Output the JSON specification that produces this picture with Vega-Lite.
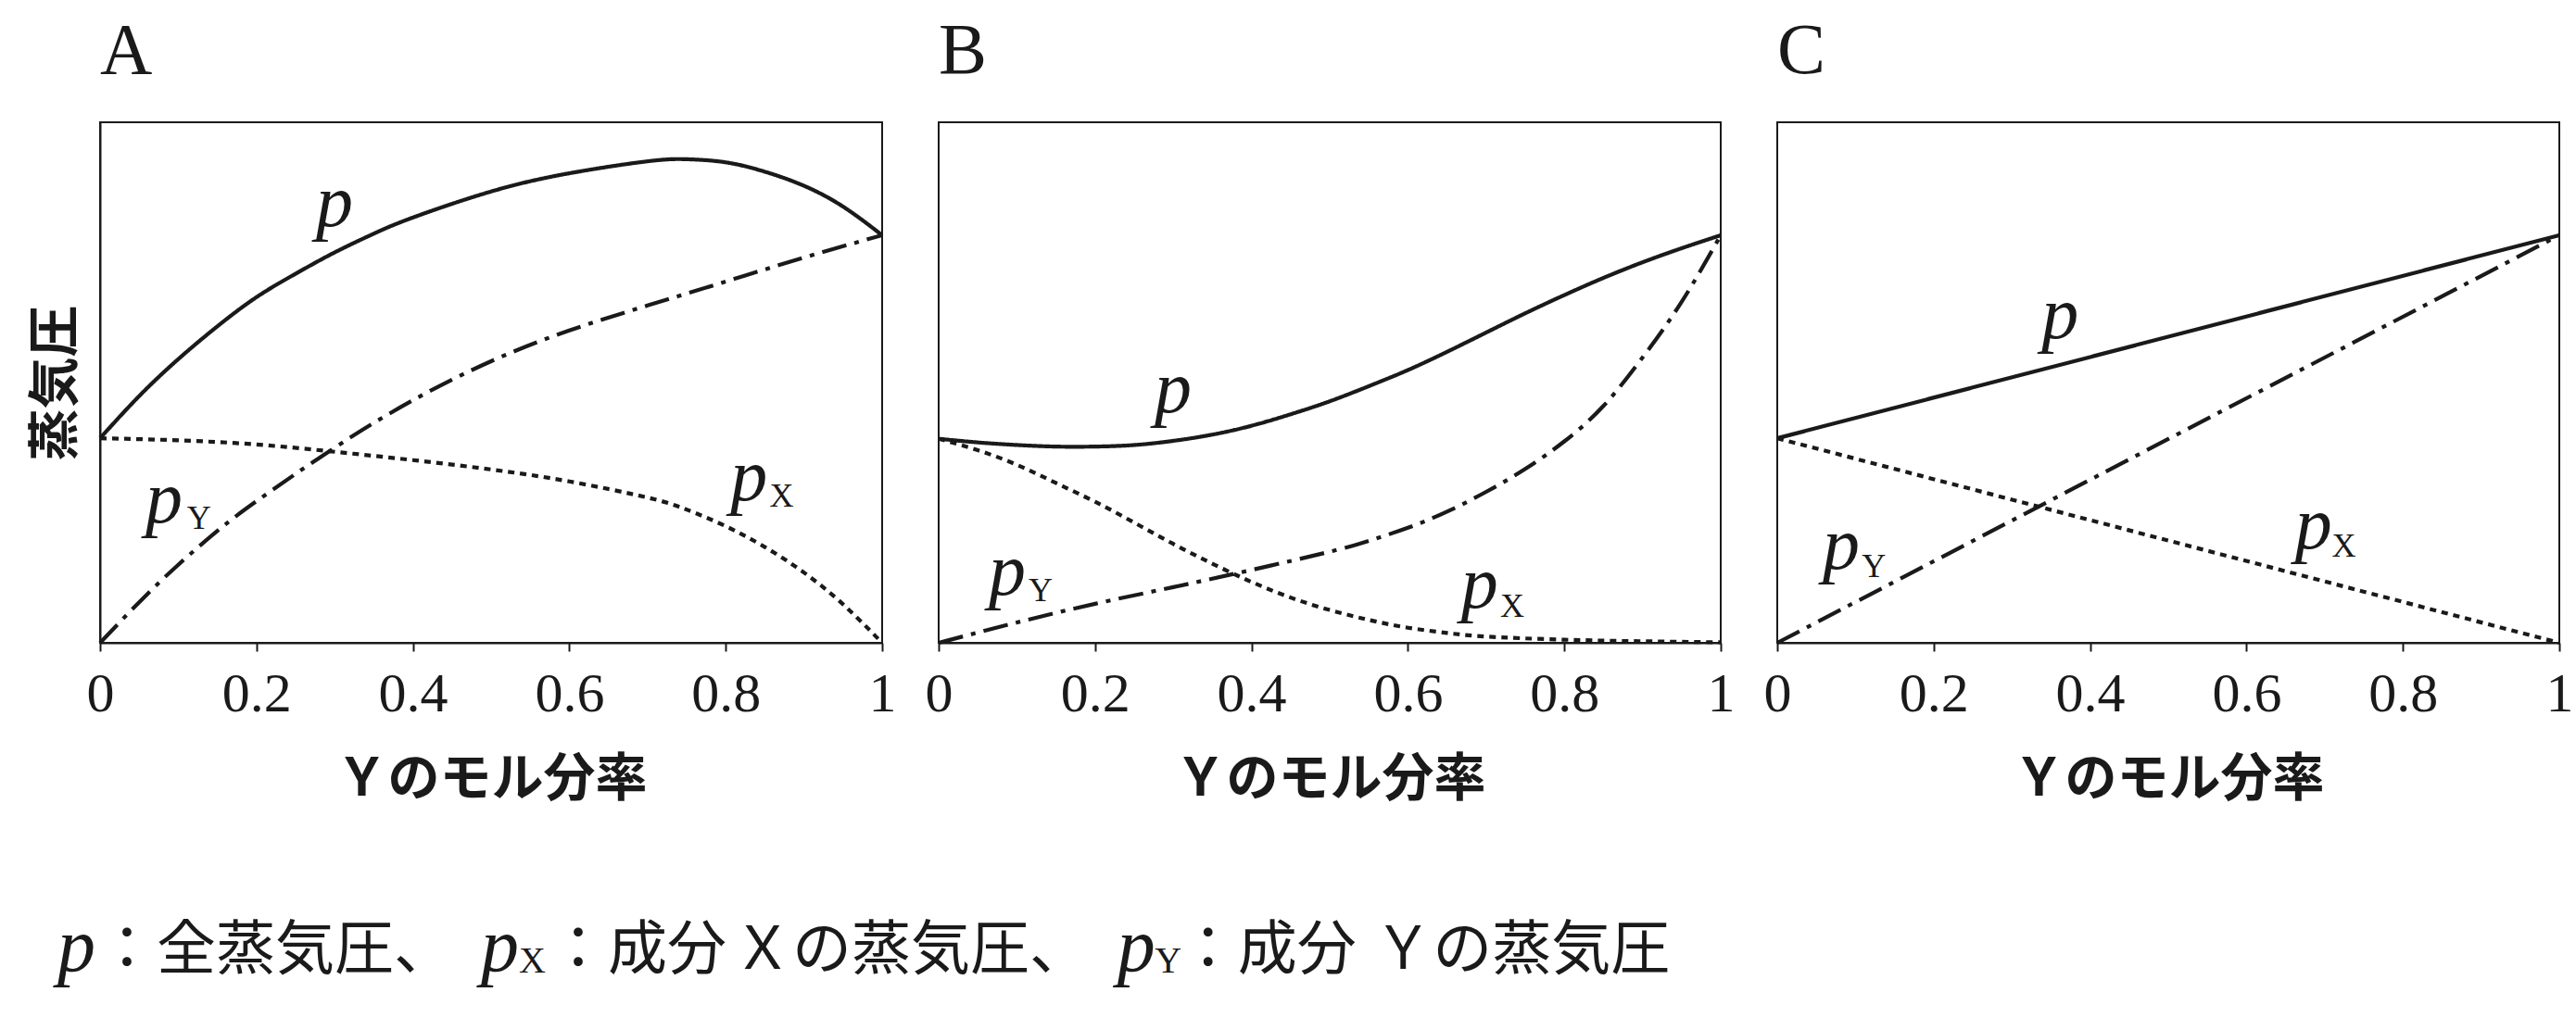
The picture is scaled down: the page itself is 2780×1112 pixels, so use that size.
{
  "$schema": "https://vega.github.io/schema/vega-lite/v6.json",
  "background": "white",
  "padding": {"left": 31, "top": 16, "right": 10, "bottom": 10},
  "datasets": {
    "curves": [
      {"panel":"A","series":"p","x":0,"y":0.393},{"panel":"A","series":"p","x":0.05,"y":0.474},{"panel":"A","series":"p","x":0.1,"y":0.545},{"panel":"A","series":"p","x":0.15,"y":0.608},{"panel":"A","series":"p","x":0.2,"y":0.664},{"panel":"A","series":"p","x":0.25,"y":0.709},{"panel":"A","series":"p","x":0.3,"y":0.75},{"panel":"A","series":"p","x":0.35,"y":0.786},{"panel":"A","series":"p","x":0.4,"y":0.817},{"panel":"A","series":"p","x":0.5,"y":0.867},{"panel":"A","series":"p","x":0.6,"y":0.902},{"panel":"A","series":"p","x":0.7,"y":0.925},{"panel":"A","series":"p","x":0.75,"y":0.929},{"panel":"A","series":"p","x":0.8,"y":0.923},{"panel":"A","series":"p","x":0.85,"y":0.905},{"panel":"A","series":"p","x":0.9,"y":0.878},{"panel":"A","series":"p","x":0.95,"y":0.838},{"panel":"A","series":"p","x":1,"y":0.783},
      {"panel":"A","series":"pX","x":0,"y":0.393},{"panel":"A","series":"pX","x":0.1,"y":0.389},{"panel":"A","series":"pX","x":0.2,"y":0.381},{"panel":"A","series":"pX","x":0.3,"y":0.367},{"panel":"A","series":"pX","x":0.4,"y":0.351},{"panel":"A","series":"pX","x":0.5,"y":0.333},{"panel":"A","series":"pX","x":0.6,"y":0.31},{"panel":"A","series":"pX","x":0.7,"y":0.279},{"panel":"A","series":"pX","x":0.75,"y":0.256},{"panel":"A","series":"pX","x":0.8,"y":0.224},{"panel":"A","series":"pX","x":0.85,"y":0.184},{"panel":"A","series":"pX","x":0.9,"y":0.135},{"panel":"A","series":"pX","x":0.95,"y":0.074},{"panel":"A","series":"pX","x":1,"y":0},
      {"panel":"A","series":"pY","x":0,"y":0},{"panel":"A","series":"pY","x":0.05,"y":0.078},{"panel":"A","series":"pY","x":0.1,"y":0.15},{"panel":"A","series":"pY","x":0.15,"y":0.215},{"panel":"A","series":"pY","x":0.2,"y":0.272},{"panel":"A","series":"pY","x":0.3,"y":0.375},{"panel":"A","series":"pY","x":0.4,"y":0.466},{"panel":"A","series":"pY","x":0.5,"y":0.541},{"panel":"A","series":"pY","x":0.6,"y":0.6},{"panel":"A","series":"pY","x":0.7,"y":0.648},{"panel":"A","series":"pY","x":0.8,"y":0.694},{"panel":"A","series":"pY","x":0.9,"y":0.74},{"panel":"A","series":"pY","x":1,"y":0.783},
      {"panel":"B","series":"p","x":0,"y":0.392},{"panel":"B","series":"p","x":0.05,"y":0.385},{"panel":"B","series":"p","x":0.1,"y":0.38},{"panel":"B","series":"p","x":0.15,"y":0.377},{"panel":"B","series":"p","x":0.2,"y":0.377},{"panel":"B","series":"p","x":0.25,"y":0.38},{"panel":"B","series":"p","x":0.3,"y":0.388},{"panel":"B","series":"p","x":0.35,"y":0.4},{"panel":"B","series":"p","x":0.4,"y":0.417},{"panel":"B","series":"p","x":0.45,"y":0.439},{"panel":"B","series":"p","x":0.5,"y":0.464},{"panel":"B","series":"p","x":0.55,"y":0.493},{"panel":"B","series":"p","x":0.6,"y":0.524},{"panel":"B","series":"p","x":0.65,"y":0.559},{"panel":"B","series":"p","x":0.7,"y":0.596},{"panel":"B","series":"p","x":0.75,"y":0.633},{"panel":"B","series":"p","x":0.8,"y":0.668},{"panel":"B","series":"p","x":0.85,"y":0.701},{"panel":"B","series":"p","x":0.9,"y":0.731},{"panel":"B","series":"p","x":0.95,"y":0.758},{"panel":"B","series":"p","x":1,"y":0.783},
      {"panel":"B","series":"pX","x":0,"y":0.392},{"panel":"B","series":"pX","x":0.05,"y":0.37},{"panel":"B","series":"pX","x":0.1,"y":0.342},{"panel":"B","series":"pX","x":0.15,"y":0.307},{"panel":"B","series":"pX","x":0.2,"y":0.271},{"panel":"B","series":"pX","x":0.25,"y":0.231},{"panel":"B","series":"pX","x":0.3,"y":0.19},{"panel":"B","series":"pX","x":0.35,"y":0.152},{"panel":"B","series":"pX","x":0.4,"y":0.117},{"panel":"B","series":"pX","x":0.45,"y":0.087},{"panel":"B","series":"pX","x":0.5,"y":0.063},{"panel":"B","series":"pX","x":0.55,"y":0.044},{"panel":"B","series":"pX","x":0.6,"y":0.029},{"panel":"B","series":"pX","x":0.65,"y":0.019},{"panel":"B","series":"pX","x":0.7,"y":0.012},{"panel":"B","series":"pX","x":0.8,"y":0.006},{"panel":"B","series":"pX","x":0.9,"y":0.003},{"panel":"B","series":"pX","x":1,"y":0.001},
      {"panel":"B","series":"pY","x":0,"y":0},{"panel":"B","series":"pY","x":0.1,"y":0.039},{"panel":"B","series":"pY","x":0.2,"y":0.075},{"panel":"B","series":"pY","x":0.3,"y":0.107},{"panel":"B","series":"pY","x":0.4,"y":0.14},{"panel":"B","series":"pY","x":0.5,"y":0.175},{"panel":"B","series":"pY","x":0.55,"y":0.196},{"panel":"B","series":"pY","x":0.6,"y":0.221},{"panel":"B","series":"pY","x":0.65,"y":0.252},{"panel":"B","series":"pY","x":0.7,"y":0.29},{"panel":"B","series":"pY","x":0.75,"y":0.334},{"panel":"B","series":"pY","x":0.8,"y":0.387},{"panel":"B","series":"pY","x":0.85,"y":0.455},{"panel":"B","series":"pY","x":0.9,"y":0.548},{"panel":"B","series":"pY","x":0.95,"y":0.655},{"panel":"B","series":"pY","x":1,"y":0.783},
      {"panel":"C","series":"p","x":0,"y":0.393},{"panel":"C","series":"p","x":1,"y":0.783},
      {"panel":"C","series":"pX","x":0,"y":0.393},{"panel":"C","series":"pX","x":1,"y":0},
      {"panel":"C","series":"pY","x":0,"y":0},{"panel":"C","series":"pY","x":1,"y":0.783}
    ],
    "labels": [
      {"panel":"A","kind":"main","t":"p","x":0.276,"y":0.8},
      {"panel":"A","kind":"main","t":"p","x":0.058,"y":0.231},
      {"panel":"A","kind":"sub","t":"Y","x":0.111,"y":0.219},
      {"panel":"A","kind":"main","t":"p","x":0.806,"y":0.274},
      {"panel":"A","kind":"sub","t":"X","x":0.856,"y":0.262},
      {"panel":"B","kind":"main","t":"p","x":0.276,"y":0.443},
      {"panel":"B","kind":"main","t":"p","x":0.064,"y":0.0925},
      {"panel":"B","kind":"sub","t":"Y","x":0.115,"y":0.08},
      {"panel":"B","kind":"main","t":"p","x":0.668,"y":0.067},
      {"panel":"B","kind":"sub","t":"X","x":0.718,"y":0.05},
      {"panel":"C","kind":"main","t":"p","x":0.338,"y":0.585},
      {"panel":"C","kind":"main","t":"p","x":0.058,"y":0.142},
      {"panel":"C","kind":"sub","t":"Y","x":0.108,"y":0.126},
      {"panel":"C","kind":"main","t":"p","x":0.662,"y":0.181},
      {"panel":"C","kind":"sub","t":"X","x":0.709,"y":0.165}
    ],
    "footer": [
      {"t":"p","style":"italic","u":0.08},
      {"t":"：全蒸気圧、","style":"text","u":0.75},
      {"t":"p","style":"italic","u":7.22},
      {"t":"X","style":"sub","u":7.86},
      {"t":"：成分","style":"text","u":8.36},
      {"t":"Ｘの蒸気圧、","style":"text","u":11.47},
      {"t":"p","style":"italic","u":17.95},
      {"t":"Y","style":"sub","u":18.58},
      {"t":"：成分","style":"text","u":18.98},
      {"t":"Ｙの蒸気圧","style":"text","u":22.27}
    ]
  },
  "columns": 3,
  "bounds": "flush",
  "spacing": {"row": 322, "column": 61},
  "concat": [
    {
      "width": 844, "height": 562,
      "title": {"text": "A"},
      "encoding": {
        "x": {"field": "x", "type": "quantitative", "scale": {"domain": [0, 1], "nice": false, "zero": false},
              "axis": {"title": "Ｙのモル分率", "values": [0, 0.2, 0.4, 0.6, 0.8, 1], "format": "~g", "labelFlush": false, "labelOverlap": false, "titleBaseline": "alphabetic", "titleY": 164}},
        "y": {"field": "y", "type": "quantitative", "scale": {"domain": [0, 1], "nice": false, "zero": false},
              "axis": {"title": "蒸気圧", "ticks": false, "labels": false, "titleAngle": -90, "titleBaseline": "alphabetic", "titleAlign": "center", "titleX": -31, "titleY": 281}}
      },
      "layer": [
        {"data": {"name": "curves"}, "transform": [{"filter": "datum.panel === 'A'"}],
         "mark": {"type": "line", "interpolate": "natural", "strokeWidth": 4.2, "color": "#1a1a1a"},
         "encoding": {"strokeDash": {"field": "series", "type": "nominal", "scale": {"domain": ["p", "pX", "pY"], "range": [[1, 0], [7, 6], [27, 9, 5, 9]]}, "legend": null}}},
        {"data": {"name": "labels"}, "transform": [{"filter": "datum.panel === 'A' && datum.kind === 'main'"}],
         "mark": {"type": "text", "font": "Liberation Serif", "fontStyle": "italic", "fontSize": 80, "align": "left", "baseline": "alphabetic", "color": "#1a1a1a"},
         "encoding": {"text": {"field": "t"}}},
        {"data": {"name": "labels"}, "transform": [{"filter": "datum.panel === 'A' && datum.kind === 'sub'"}],
         "mark": {"type": "text", "font": "Liberation Serif", "fontSize": 36, "align": "left", "baseline": "alphabetic", "color": "#1a1a1a"},
         "encoding": {"text": {"field": "t"}}}
      ]
    },
    {
      "width": 844, "height": 562,
      "title": {"text": "B"},
      "encoding": {
        "x": {"field": "x", "type": "quantitative", "scale": {"domain": [0, 1], "nice": false, "zero": false},
              "axis": {"title": "Ｙのモル分率", "values": [0, 0.2, 0.4, 0.6, 0.8, 1], "format": "~g", "labelFlush": false, "labelOverlap": false, "titleBaseline": "alphabetic", "titleY": 164}},
        "y": {"field": "y", "type": "quantitative", "scale": {"domain": [0, 1], "nice": false, "zero": false}, "axis": null}
      },
      "layer": [
        {"data": {"name": "curves"}, "transform": [{"filter": "datum.panel === 'B'"}],
         "mark": {"type": "line", "interpolate": "natural", "strokeWidth": 4.2, "color": "#1a1a1a"},
         "encoding": {"strokeDash": {"field": "series", "type": "nominal", "scale": {"domain": ["p", "pX", "pY"], "range": [[1, 0], [7, 6], [27, 9, 5, 9]]}, "legend": null}}},
        {"data": {"name": "labels"}, "transform": [{"filter": "datum.panel === 'B' && datum.kind === 'main'"}],
         "mark": {"type": "text", "font": "Liberation Serif", "fontStyle": "italic", "fontSize": 80, "align": "left", "baseline": "alphabetic", "color": "#1a1a1a"},
         "encoding": {"text": {"field": "t"}}},
        {"data": {"name": "labels"}, "transform": [{"filter": "datum.panel === 'B' && datum.kind === 'sub'"}],
         "mark": {"type": "text", "font": "Liberation Serif", "fontSize": 36, "align": "left", "baseline": "alphabetic", "color": "#1a1a1a"},
         "encoding": {"text": {"field": "t"}}}
      ]
    },
    {
      "width": 844, "height": 562,
      "title": {"text": "C"},
      "encoding": {
        "x": {"field": "x", "type": "quantitative", "scale": {"domain": [0, 1], "nice": false, "zero": false},
              "axis": {"title": "Ｙのモル分率", "values": [0, 0.2, 0.4, 0.6, 0.8, 1], "format": "~g", "labelFlush": false, "labelOverlap": false, "titleBaseline": "alphabetic", "titleY": 164}},
        "y": {"field": "y", "type": "quantitative", "scale": {"domain": [0, 1], "nice": false, "zero": false}, "axis": null}
      },
      "layer": [
        {"data": {"name": "curves"}, "transform": [{"filter": "datum.panel === 'C'"}],
         "mark": {"type": "line", "interpolate": "natural", "strokeWidth": 4.2, "color": "#1a1a1a"},
         "encoding": {"strokeDash": {"field": "series", "type": "nominal", "scale": {"domain": ["p", "pX", "pY"], "range": [[1, 0], [7, 6], [27, 9, 5, 9]]}, "legend": null}}},
        {"data": {"name": "labels"}, "transform": [{"filter": "datum.panel === 'C' && datum.kind === 'main'"}],
         "mark": {"type": "text", "font": "Liberation Serif", "fontStyle": "italic", "fontSize": 80, "align": "left", "baseline": "alphabetic", "color": "#1a1a1a"},
         "encoding": {"text": {"field": "t"}}},
        {"data": {"name": "labels"}, "transform": [{"filter": "datum.panel === 'C' && datum.kind === 'sub'"}],
         "mark": {"type": "text", "font": "Liberation Serif", "fontSize": 36, "align": "left", "baseline": "alphabetic", "color": "#1a1a1a"},
         "encoding": {"text": {"field": "t"}}}
      ]
    },
    {
      "width": 844, "height": 60,
      "view": {"stroke": null},
      "data": {"name": "footer"},
      "encoding": {
        "x": {"field": "u", "type": "quantitative", "scale": {"domain": [0.797, 13.984], "nice": false, "zero": false}, "axis": null},
        "text": {"field": "t"}
      },
      "layer": [
        {"transform": [{"filter": "datum.style === 'text'"}],
         "mark": {"type": "text", "font": "Noto Sans CJK JP", "fontSize": 64, "align": "left", "baseline": "alphabetic", "color": "#1a1a1a"}},
        {"transform": [{"filter": "datum.style === 'italic'"}],
         "mark": {"type": "text", "font": "Liberation Serif", "fontStyle": "italic", "fontSize": 82, "align": "left", "baseline": "alphabetic", "dy": 2, "color": "#1a1a1a"}},
        {"transform": [{"filter": "datum.style === 'sub'"}],
         "mark": {"type": "text", "font": "Liberation Serif", "fontSize": 40, "align": "left", "baseline": "alphabetic", "dy": 4, "color": "#1a1a1a"}}
      ]
    }
  ],
  "config": {
    "view": {"stroke": "#1a1a1a", "strokeWidth": 2},
    "axis": {"grid": false, "domainColor": "#1a1a1a", "domainWidth": 2, "tickColor": "#1a1a1a", "tickWidth": 2, "tickSize": 9,
             "labelFont": "Liberation Serif", "labelFontSize": 60, "labelColor": "#1a1a1a", "labelPadding": 17,
             "titleFont": "Noto Sans CJK JP", "titleFontWeight": "bold", "titleFontSize": 56, "titleColor": "#1a1a1a"},
    "title": {"font": "Liberation Serif", "fontSize": 78, "fontWeight": "normal", "anchor": "start", "frame": "group", "color": "#1a1a1a", "baseline": "alphabetic", "offset": 37}
  }
}
